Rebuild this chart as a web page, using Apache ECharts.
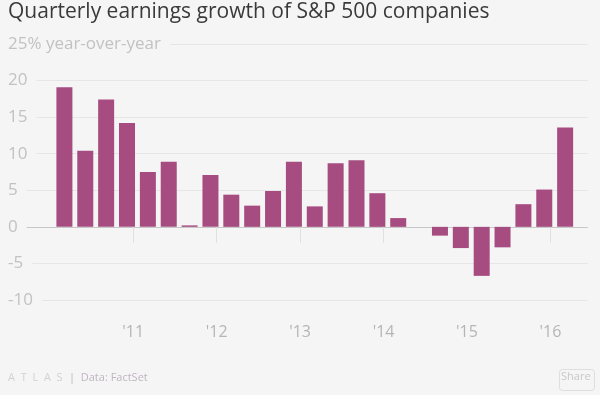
<!DOCTYPE html>
<html>
<head>
<meta charset="utf-8">
<script src="https://cdn.jsdelivr.net/npm/echarts@6/dist/echarts.min.js"></script>
<style>
  html, body { margin: 0; padding: 0; background: #f5f5f5; }
  #chart { width: 600px; height: 395px; }
</style>
</head>
<body>
<div id="chart"></div>
<script>
// ---- data ----
const quarters = [
  "2010 Q1","2010 Q2","2010 Q3","2010 Q4",
  "2011 Q1","2011 Q2","2011 Q3","2011 Q4",
  "2012 Q1","2012 Q2","2012 Q3","2012 Q4",
  "2013 Q1","2013 Q2","2013 Q3","2013 Q4",
  "2014 Q1","2014 Q2","2014 Q3","2014 Q4",
  "2015 Q1","2015 Q2","2015 Q3","2015 Q4",
  "2016 Q1"
];
const growth = [
  19.1, 10.4, 17.4, 14.2,
  7.5, 8.9, 0.2, 7.1,
  4.4, 2.9, 4.9, 8.9,
  2.8, 8.7, 9.1, 4.6,
  1.2, 0.0, -1.2, -2.9,
  -6.7, -2.8, 3.1, 5.1,
  13.6
];
const yearTicks = [2011, 2012, 2013, 2014, 2015, 2016];
const yTicks = [-10, -5, 0, 5, 10, 15, 20, 25];

// ---- layout ----
const barOffset = 0.176; // bar centre position within a quarter (years)
function quarterToX(label) {
  const parts = label.split(" Q");
  return Number(parts[0]) + (Number(parts[1]) - 1) / 4 + barOffset;
}
const seriesData = quarters.map((q, i) => [quarterToX(q), growth[i]]);

const splitColors = yTicks.map(v => v === 0 ? '#c8c8c8' : '#e6e6e6');

const chart = echarts.init(document.getElementById('chart'), null, { renderer: 'canvas' });
chart.setOption({
  backgroundColor: '#f5f5f5',
  animation: false,
  title: {
    text: 'Quarterly earnings growth of S&P 500 companies',
    left: 8,
    top: 2,
    padding: 0,
    textStyle: {
      fontFamily: 'Open Sans',
      fontSize: 21,
      fontWeight: 'normal',
      color: '#3a3a3a'
    }
  },
  grid: { left: 8, right: 12, top: 44, bottom: 95, containLabel: false },
  xAxis: {
    type: 'value',
    min: 2009.5,
    max: 2016.45,
    axisLine: { show: false },
    splitLine: { show: false },
    axisTick: {
      show: true,
      customValues: yearTicks,
      length: 16,
      lineStyle: { color: '#e0e0e0', width: 1 }
    },
    axisLabel: {
      customValues: yearTicks,
      margin: 24,
      formatter: v => "'" + String(v).slice(2),
      fontFamily: 'Open Sans',
      fontSize: 16,
      color: '#b5b5b5'
    }
  },
  yAxis: {
    type: 'value',
    min: -10,
    max: 25,
    interval: 5,
    axisLine: { show: false },
    axisTick: { show: false },
    splitLine: {
      show: true,
      lineStyle: { color: splitColors, width: 1 }
    },
    axisLabel: {
      inside: true,
      margin: 0,
      align: 'left',
      verticalAlign: 'middle',
      backgroundColor: '#f5f5f5',
      padding: [2, 9, 2, 0],
      fontFamily: 'Open Sans',
      fontSize: 17,
      color: '#c2c2c2',
      formatter: v => v === 25 ? '25% year-over-year' : String(v)
    }
  },
  series: [{
    type: 'bar',
    data: seriesData,
    barWidth: 16,
    itemStyle: { color: '#a64c81' }
  }],
  graphic: [
    {
      type: 'text', left: 8, top: 372,
      style: { text: 'A  T  L  A  S', fontFamily: 'Open Sans', fontSize: 11, fill: '#d2d2d2' }
    },
    {
      type: 'text', left: 69, top: 372,
      style: { text: '|  Data: FactSet', fontFamily: 'Open Sans', fontSize: 11, fill: '#c0b6c2' }
    },
    {
      type: 'rect', left: 557, top: 367,
      shape: { width: 35, height: 21, r: 3 },
      style: { fill: 'none', stroke: '#dedede', lineWidth: 1 }
    },
    {
      type: 'text', left: 561, top: 371,
      style: { text: 'Share', fontFamily: 'Open Sans', fontSize: 11, fill: '#c8c8c8' }
    }
  ]
});
</script>
</body>
</html>
